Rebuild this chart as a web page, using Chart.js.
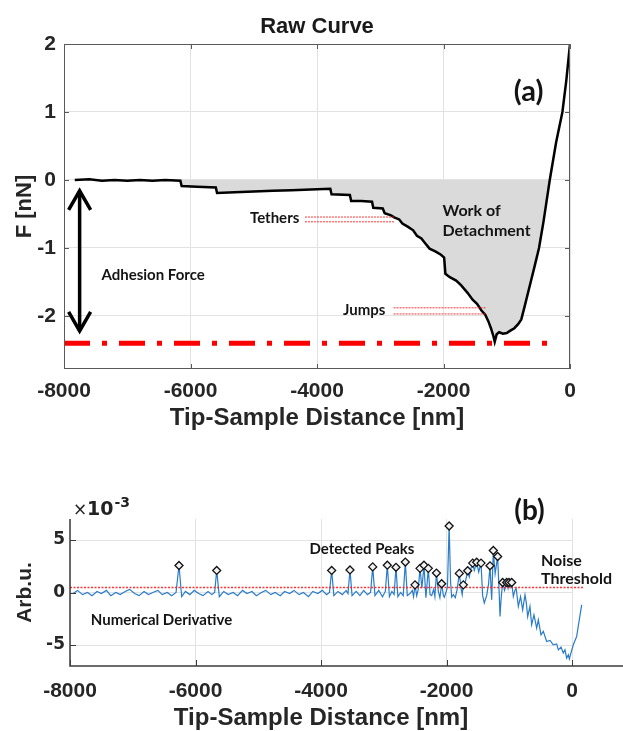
<!DOCTYPE html>
<html>
<head>
<meta charset="utf-8">
<script src="https://cdn.jsdelivr.net/npm/chart.js@4.4.1/dist/chart.umd.min.js"></script>
<style>
  html, body { margin: 0; padding: 0; background: #ffffff; }
  #wrap { position: relative; width: 623px; height: 731px; overflow: hidden; }
  .box { position: absolute; left: 0; width: 623px; }
</style>
</head>
<body>
<div id="wrap">
  <div class="box" style="top:0;height:440px"><canvas id="c1" width="623" height="440"></canvas></div>
  <div class="box" style="top:440px;height:291px"><canvas id="c2" width="623" height="291"></canvas></div>
</div>
<script>
// ---------------- DATA ----------------
const xTickValues = [-8000, -6000, -4000, -2000, 0];
const forceTicks = [-2, -1, 0, 1, 2];
const derivTicks = [-5, 0, 5];

// (a) raw force curve: [distance nm, force nN]
const rawCurve = [
  [-7830, 0.00], [-7600, 0.01], [-7400, -0.01], [-7200, 0.00], [-7000, -0.01], [-6800, 0.00],
  [-6600, -0.01], [-6400, 0.00], [-6160, -0.01],
  [-6140, -0.09], [-5900, -0.10], [-5600, -0.11],
  [-5580, -0.19], [-5300, -0.18], [-5000, -0.17], [-4700, -0.16], [-4400, -0.15], [-4100, -0.14], [-3790, -0.13],
  [-3770, -0.21], [-3480, -0.22],
  [-3460, -0.31], [-3300, -0.31], [-3130, -0.32],
  [-3110, -0.41], [-2960, -0.42],
  [-2930, -0.49], [-2830, -0.52], [-2780, -0.55], [-2700, -0.58], [-2650, -0.64], [-2560, -0.69],
  [-2480, -0.74], [-2420, -0.82], [-2350, -0.86], [-2290, -0.93], [-2220, -1.01], [-2130, -1.05],
  [-2040, -1.10], [-1990, -1.14],
  [-1970, -1.38], [-1900, -1.43], [-1800, -1.48], [-1720, -1.55], [-1620, -1.66], [-1540, -1.76],
  [-1470, -1.82], [-1400, -1.92], [-1340, -1.98], [-1290, -2.08], [-1250, -2.18], [-1210, -2.30],
  [-1190, -2.38], [-1160, -2.27], [-1120, -2.24], [-1060, -2.26], [-1000, -2.25], [-950, -2.22],
  [-880, -2.18], [-820, -2.12], [-770, -2.05], [-720, -1.87], [-640, -1.57], [-560, -1.27],
  [-490, -1.00], [-420, -0.62], [-320, 0.00], [-220, 0.55], [-120, 1.00], [-60, 1.45], [0, 2.00]
];
const adhesionLevel = [[-8000, -2.4], [-227, -2.4]];
const tetherUpper = [[-4190, -0.545], [-2775, -0.545]];
const tetherLower = [[-4190, -0.615], [-2775, -0.615]];
const jumpUpper = [[-2790, -1.88], [-1320, -1.88]];
const jumpLower = [[-2790, -1.97], [-1320, -1.97]];

// (b) numerical derivative (×10^-3): [distance nm, value]
const derivative = [
  [-7950, -0.1], [-7880, 0.2], [-7800, -0.2], [-7720, 0.0], [-7650, -0.3], [-7570, 0.1], [-7500, -0.1],
  [-7420, 0.2], [-7350, -0.3], [-7270, 0.0], [-7200, -0.2], [-7120, 0.1], [-7050, 0.3], [-6970, -0.1],
  [-6900, -0.3], [-6820, 0.1], [-6750, -0.2], [-6680, 0.0], [-6600, 0.2], [-6530, -0.2], [-6450, 0.0],
  [-6380, -0.3], [-6310, 0.0], [-6263, 2.57], [-6220, -0.4], [-6160, 0.1], [-6090, -0.2], [-6020, 0.2],
  [-5950, -0.1], [-5880, -0.3], [-5800, 0.1], [-5740, -0.2], [-5695, 0.0], [-5662, 2.10], [-5620, -0.4],
  [-5550, 0.1], [-5480, -0.2], [-5400, 0.0], [-5330, -0.3], [-5250, 0.2], [-5180, -0.1], [-5100, 0.1],
  [-5030, -0.3], [-4950, 0.0], [-4880, 0.2], [-4800, -0.2], [-4730, 0.0], [-4650, -0.3], [-4580, 0.1],
  [-4500, -0.1], [-4430, 0.2], [-4350, -0.2], [-4280, 0.0], [-4200, -0.4], [-4130, 0.1], [-4050, -0.1],
  [-3980, 0.2], [-3910, -0.2], [-3865, 0.0], [-3830, 2.10], [-3795, -0.3], [-3730, 0.1], [-3660, -0.2],
  [-3600, 0.2], [-3570, -0.1], [-3538, 2.15], [-3505, -0.3], [-3440, 0.1], [-3380, -0.3], [-3320, 0.2],
  [-3260, -0.2], [-3210, 0.0], [-3176, 2.44], [-3140, -0.3], [-3080, 0.2], [-3020, -0.4], [-2975, 0.1],
  [-2943, 2.60], [-2910, -0.4], [-2870, 0.1], [-2835, -0.2], [-2805, 2.40], [-2775, -0.4], [-2730, 0.0],
  [-2690, -0.3], [-2656, 2.90], [-2625, -0.3], [-2582, -0.1], [-2545, 0.2], [-2525, -0.4], [-2502, 0.73],
  [-2475, -0.3], [-2450, 0.3], [-2422, 2.30], [-2392, 0.4], [-2359, 2.60], [-2328, -0.5], [-2290, 2.30],
  [-2262, -0.2], [-2236, -0.3], [-2205, 0.3], [-2185, -0.4], [-2160, 1.85], [-2130, 0.1], [-2105, -0.5],
  [-2077, 0.83], [-2050, -0.3], [-2035, -0.45], [-2005, 0.1], [-1985, 0.5], [-1958, 6.33], [-1935, 1.0],
  [-1918, -0.44], [-1890, -0.2], [-1860, -0.5], [-1830, 0.3], [-1796, 1.82], [-1765, 0.3], [-1750, -0.2],
  [-1732, 0.73], [-1700, 1.0], [-1662, 2.07], [-1637, 1.5], [-1610, 2.3], [-1583, 2.80], [-1557, 2.1],
  [-1519, 2.88], [-1487, 1.95], [-1450, 2.80], [-1424, -0.3], [-1398, -1.0], [-1360, -0.3], [-1330, 0.8],
  [-1307, 2.54], [-1280, -0.7], [-1254, 4.00], [-1225, 1.8], [-1185, 3.43], [-1160, -0.1], [-1147, -2.28],
  [-1130, -0.6], [-1105, 0.95], [-1075, 0.2], [-1041, 0.95], [-1020, 0.4], [-1004, 0.95], [-985, 0.5],
  [-961, 0.95], [-935, -0.38], [-910, 0.2], [-890, 0.4], [-855, -1.33], [-820, -0.4], [-786, -1.65],
  [-749, -0.22], [-730, -0.9], [-706, -2.3], [-670, -1.33], [-643, -3.08], [-606, -2.12], [-563, -3.4],
  [-537, -2.6], [-494, -4.03], [-457, -3.7], [-404, -4.67], [-351, -4.57], [-298, -4.98], [-244, -4.9],
  [-218, -5.46], [-175, -5.2], [-139, -5.77], [-112, -5.46], [-85, -6.25], [-58, -5.93], [-42, -6.34],
  [-20, -5.83], [21, -4.98], [74, -4.19], [116, -2.6], [154, -1.17]
];
const detectedPeaks = [
  [-6263, 2.57], [-5662, 2.10], [-3830, 2.10], [-3538, 2.15], [-3176, 2.44], [-2943, 2.60], [-2805, 2.40],
  [-2656, 2.90], [-2502, 0.73], [-2422, 2.30], [-2359, 2.60], [-2290, 2.30], [-2160, 1.85], [-2077, 0.83],
  [-1958, 6.33], [-1796, 1.82], [-1732, 0.73], [-1662, 2.07], [-1583, 2.80], [-1519, 2.88], [-1450, 2.80],
  [-1307, 2.54], [-1254, 4.00], [-1185, 3.43], [-1105, 0.95], [-1041, 0.95], [-1004, 0.95], [-961, 0.95]
];
const noiseThreshold = [[-8000, 0.48], [180, 0.48]];

// ---------------- annotations (data coordinates) ----------------
const adhesionArrow = { x: -7753, from: -0.13, to: -2.25 };
const notesA = [
  { text: 'Tethers', x: -4670, y: -0.56, align: 'center', size: 15 },
  { text: 'Adhesion Force', x: -6591, y: -1.40, align: 'center', size: 15 },
  { text: 'Work of', x: -2015, y: -0.456, align: 'left', size: 16 },
  { text: 'Detachment', x: -2015, y: -0.75, align: 'left', size: 16 },
  { text: 'Jumps', x: -3255, y: -1.91, align: 'center', size: 15 },
  { text: '(a)', x: -654, y: 1.30, align: 'center', size: 29 }
];
const notesB = [
  { text: '(b)', x: -677, y: 7.75, align: 'center', size: 28 },
  { text: 'Detected Peaks', x: -3347, y: 4.16, align: 'center', size: 15 },
  { text: 'Noise', x: -494, y: 3.02, align: 'left', size: 16 },
  { text: 'Threshold', x: -494, y: 1.30, align: 'left', size: 16 },
  { text: 'Numerical Derivative', x: -6542, y: -2.6, align: 'center', size: 15 }
];

// ---------------- helpers ----------------
const toXY = arr => arr.map(([x, y]) => ({ x, y }));
const FONT = "'Liberation Sans', Arial, Helvetica, sans-serif";
const NOTE_FONT = "Lato, 'Open Sans', sans-serif";
const fixedTicks = values => scale => { scale.ticks = values.map(v => ({ value: v })); };
const plainLabel = v => String(v);

function drawNotes(ctx, notes, xs, ys) {
  ctx.fillStyle = '#141414';
  ctx.textBaseline = 'middle';
  notes.forEach(n => {
    ctx.font = `bold ${n.size}px ${NOTE_FONT}`;
    ctx.textAlign = n.align;
    ctx.fillText(n.text, xs.getPixelForValue(n.x), ys.getPixelForValue(n.y));
  });
}
function seg(ctx, x1, y1, x2, y2) { ctx.beginPath(); ctx.moveTo(x1, y1); ctx.lineTo(x2, y2); ctx.stroke(); }

const annotA = {
  id: 'annotA',
  afterDatasetsDraw(chart) {
    const { ctx, chartArea: a, scales: { x, y } } = chart;
    ctx.save();
    ctx.strokeStyle = '#5a5a5a'; ctx.lineWidth = 1;
    ctx.strokeRect(a.left + 0.5, a.top + 0.5, a.width - 1, a.height - 1);
    xTickValues.forEach(v => {
      const px = Math.round(x.getPixelForValue(v)) + 0.5;
      seg(ctx, px, a.bottom, px, a.bottom - 5); seg(ctx, px, a.top, px, a.top + 5);
    });
    forceTicks.forEach(v => {
      const py = Math.round(y.getPixelForValue(v)) + 0.5;
      seg(ctx, a.left, py, a.left + 5, py); seg(ctx, a.right, py, a.right - 5, py);
    });
    const ax = x.getPixelForValue(adhesionArrow.x);
    const y1 = y.getPixelForValue(adhesionArrow.from), y2 = y.getPixelForValue(adhesionArrow.to);
    ctx.strokeStyle = '#000'; ctx.lineWidth = 3.5; ctx.lineJoin = 'miter';
    seg(ctx, ax, y1 + 2, ax, y2 - 2);
    ctx.beginPath(); ctx.moveTo(ax - 11, y1 + 21); ctx.lineTo(ax, y1 + 2); ctx.lineTo(ax + 11, y1 + 21); ctx.stroke();
    ctx.beginPath(); ctx.moveTo(ax - 11, y2 - 21); ctx.lineTo(ax, y2 - 2); ctx.lineTo(ax + 11, y2 - 21); ctx.stroke();
    drawNotes(ctx, notesA, x, y);
    ctx.restore();
  }
};

const annotB = {
  id: 'annotB',
  afterDatasetsDraw(chart) {
    const { ctx, chartArea: a, scales: { x, y } } = chart;
    ctx.save();
    ctx.strokeStyle = '#3c3c3c'; ctx.lineWidth = 1.5;
    ctx.beginPath(); ctx.moveTo(a.left, a.top); ctx.lineTo(a.left, a.bottom); ctx.lineTo(chart.width, a.bottom); ctx.stroke();
    ctx.lineWidth = 1;
    xTickValues.forEach(v => {
      const px = Math.round(x.getPixelForValue(v)) + 0.5;
      seg(ctx, px, a.bottom, px, a.bottom - 6);
    });
    derivTicks.forEach(v => {
      const py = Math.round(y.getPixelForValue(v)) + 0.5;
      seg(ctx, a.left, py, a.left + 6, py);
    });
    ctx.fillStyle = '#222'; ctx.textAlign = 'left'; ctx.textBaseline = 'alphabetic';
    ctx.font = "17px 'DejaVu Sans'";
    ctx.fillText('×', a.left + 3, a.top - 4);
    ctx.font = "bold 19px 'DejaVu Sans'";
    ctx.fillText('10', a.left + 17, a.top - 4);
    const w = ctx.measureText('10').width;
    ctx.font = "bold 14px 'DejaVu Sans'";
    ctx.fillText('-3', a.left + 18 + w, a.top - 12);
    drawNotes(ctx, notesB, x, y);
    ctx.restore();
  }
};

// ---------------- chart (a) ----------------
new Chart(document.getElementById('c1'), {
  type: 'line',
  data: {
    datasets: [
      { data: toXY(adhesionLevel), borderColor: '#ff0000', borderWidth: 5, borderDash: [26, 12, 5, 12],
        pointRadius: 0, fill: false, order: 0 },
      { data: toXY(tetherUpper), borderColor: 'rgba(255,20,20,0.85)', borderWidth: 1, borderDash: [2, 1], pointRadius: 0, fill: false, order: 1 },
      { data: toXY(tetherLower), borderColor: 'rgba(255,20,20,0.85)', borderWidth: 1, borderDash: [2, 1], pointRadius: 0, fill: false, order: 1 },
      { data: toXY(jumpUpper), borderColor: 'rgba(255,20,20,0.85)', borderWidth: 1, borderDash: [2, 1], pointRadius: 0, fill: false, order: 1 },
      { data: toXY(jumpLower), borderColor: 'rgba(255,20,20,0.85)', borderWidth: 1, borderDash: [2, 1], pointRadius: 0, fill: false, order: 1 },
      { data: toXY(rawCurve), borderColor: '#000000', borderWidth: 2.5, pointRadius: 0, tension: 0,
        fill: { target: { value: 0 }, above: 'rgba(0,0,0,0)', below: '#dadada' }, order: 5 }
    ]
  },
  options: {
    responsive: false, animation: false, events: [],
    layout: { padding: { left: 0, right: 53, top: 0, bottom: 0 } },
    plugins: {
      legend: { display: false }, tooltip: { enabled: false },
      title: { display: true, fullSize: false, text: 'Raw Curve', color: '#1a1a1a',
        font: { family: FONT, size: 22, weight: 'bold', lineHeight: 1.2 }, padding: { top: 14, bottom: 3.6 } }
    },
    scales: {
      x: { type: 'linear', min: -8000, max: 0, afterBuildTicks: fixedTicks(xTickValues),
        afterFit: s => { s.height = 71; },
        grid: { color: '#e2e2e2', drawTicks: false }, border: { display: false },
        ticks: { callback: plainLabel, color: '#262626', font: { family: FONT, size: 21, weight: 'bold' }, padding: 9.5, maxRotation: 0, autoSkip: false },
        title: { display: true, text: 'Tip-Sample Distance [nm]', color: '#262626',
          font: { family: FONT, size: 24, weight: 'bold', lineHeight: 1 }, padding: { top: 0, bottom: 10 } } },
      y: { type: 'linear', min: -2.78, max: 2, afterBuildTicks: fixedTicks(forceTicks),
        afterFit: s => { s.width = 64; },
        grid: { color: '#e2e2e2', drawTicks: false }, border: { display: false },
        ticks: { callback: plainLabel, color: '#262626', font: { family: FONT, size: 21, weight: 'bold' }, padding: 8 },
        title: { display: true, text: 'F [nN]', color: '#262626',
          font: { family: FONT, size: 22, weight: 'bold', lineHeight: 1 }, padding: { top: 14, bottom: 0 } } }
    }
  },
  plugins: [annotA]
});

// ---------------- chart (b) ----------------
// the trace runs a little past x = 0; feeding its points in reverse order keeps Chart.js from trimming them
new Chart(document.getElementById('c2'), {
  type: 'line',
  data: {
    datasets: [
      { data: toXY(detectedPeaks), showLine: false, pointStyle: 'rectRot', pointRadius: 4,
        pointBackgroundColor: '#f2f2f2', pointBorderColor: '#111', pointBorderWidth: 1.3, clip: false, order: 0 },
      { data: toXY(noiseThreshold), borderColor: 'rgba(255,30,30,0.9)', borderWidth: 1.5, borderDash: [2, 1.5],
        pointRadius: 0, fill: false, clip: false, order: 1 },
      { data: toXY(derivative.slice().reverse()), borderColor: '#2a7cc9', borderWidth: 1.2, pointRadius: 0, tension: 0,
        fill: false, clip: false, order: 2 }
    ]
  },
  options: {
    responsive: false, animation: false, events: [],
    layout: { padding: { left: 0, right: 51, top: 79, bottom: 0 } },
    plugins: { legend: { display: false }, tooltip: { enabled: false } },
    scales: {
      x: { type: 'linear', min: -8000, max: 0, afterBuildTicks: fixedTicks(xTickValues),
        afterFit: s => { s.height = 65; },
        grid: { color: '#e2e2e2', drawTicks: false }, border: { display: false },
        ticks: { callback: plainLabel, color: '#262626', font: { family: FONT, size: 21, weight: 'bold' }, padding: 12.5, maxRotation: 0, autoSkip: false },
        title: { display: true, text: 'Tip-Sample Distance [nm]', color: '#262626',
          font: { family: FONT, size: 24, weight: 'bold', lineHeight: 1 }, padding: { top: 0, bottom: 1 } } },
      y: { type: 'linear', min: -7, max: 7, afterBuildTicks: fixedTicks(derivTicks),
        afterFit: s => { s.width = 70; },
        grid: { color: '#e2e2e2', drawTicks: false }, border: { display: false },
        ticks: { callback: plainLabel, color: '#262626', font: { family: "'DejaVu Sans', sans-serif", size: 17, weight: 'bold' }, padding: 5 },
        title: { display: true, text: 'Arb.u.', color: '#262626',
          font: { family: FONT, size: 21, weight: 'bold', lineHeight: 1 }, padding: { top: 14.5, bottom: 0 } } }
    }
  },
  plugins: [annotB]
});
</script>
</body>
</html>
